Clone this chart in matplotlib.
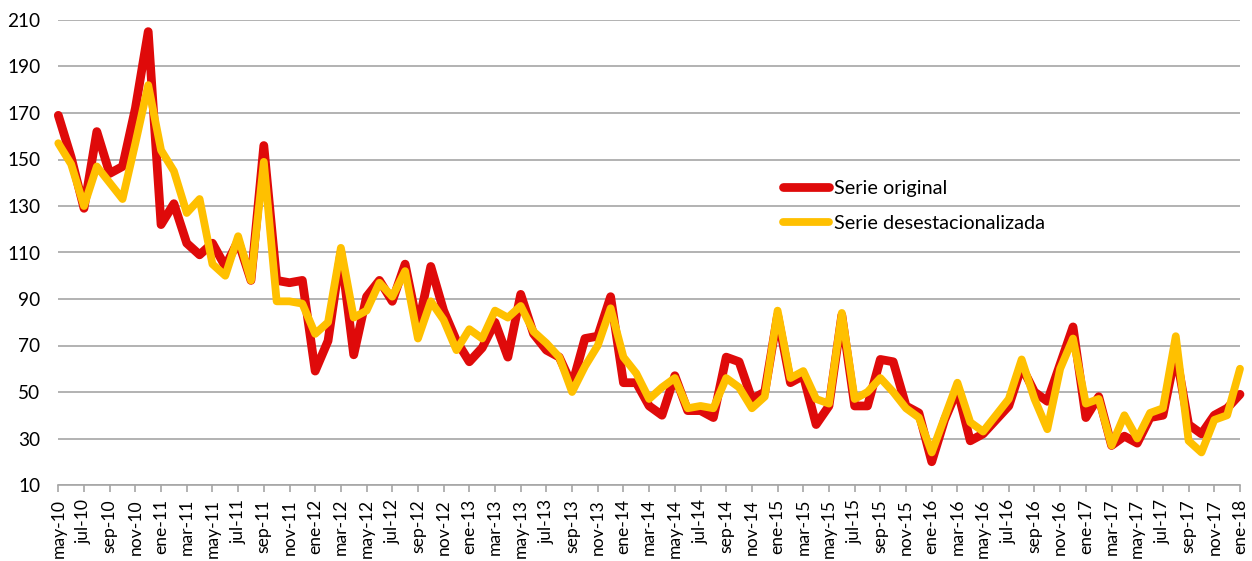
import matplotlib
matplotlib.use("Agg")
import matplotlib.pyplot as plt
import numpy as np

# ---- data ----
serie_original = [169, 151, 129, 162, 144, 147, 172, 205, 122, 131, 114, 109, 114, 104, 115, 98,
                  156, 98, 97, 98, 59, 72, 110, 66, 91, 98, 89, 105, 78, 104, 85, 72,
                  63, 69, 80, 65, 92, 75, 68, 65, 53, 73, 74, 91, 54, 54, 44, 40,
                  57, 42, 42, 39, 65, 63, 47, 50, 83, 54, 57, 36, 44, 83, 44, 44,
                  64, 63, 44, 41, 20, 38, 51, 29, 32, 38, 44, 61, 50, 46, 62, 78,
                  39, 48, 27, 31, 28, 39, 40, 67, 36, 32, 40, 43, 49]
serie_desest = [157, 148, 130, 147, 140, 133, 157, 182, 154, 145, 127, 133, 105, 100, 117, 98,
                149, 89, 89, 88, 75, 80, 112, 82, 85, 97, 91, 102, 73, 89, 81, 68,
                77, 73, 85, 82, 87, 76, 71, 65, 50, 61, 70, 86, 65, 58, 47, 52,
                56, 43, 44, 43, 56, 52, 43, 48, 85, 56, 59, 47, 45, 84, 47, 50,
                56, 50, 43, 39, 24, 39, 54, 37, 33, 40, 47, 64, 47, 34, 60, 73,
                45, 47, 27, 40, 30, 41, 43, 74, 29, 24, 38, 40, 60]
tick_labels = ["may-10", "jul-10", "sep-10", "nov-10", "ene-11", "mar-11", "may-11", "jul-11",
               "sep-11", "nov-11", "ene-12", "mar-12", "may-12", "jul-12", "sep-12", "nov-12",
               "ene-13", "mar-13", "may-13", "jul-13", "sep-13", "nov-13", "ene-14", "mar-14",
               "may-14", "jul-14", "sep-14", "nov-14", "ene-15", "mar-15", "may-15", "jul-15",
               "sep-15", "nov-15", "ene-16", "mar-16", "may-16", "jul-16", "sep-16", "nov-16",
               "ene-17", "mar-17", "may-17", "jul-17", "sep-17", "nov-17", "ene-18"]
y_ticks = [10, 30, 50, 70, 90, 110, 130, 150, 170, 190, 210]
series_names = ["Serie original", "Serie desestacionalizada"]

plt.rcParams['font.family'] = ['Lato', 'DejaVu Sans']

W, H = 1252, 561
fig = plt.figure(figsize=(W / 100, H / 100), dpi=100)
ax = fig.add_axes([58.3 / W, 76 / H, (1240 - 58.3) / W, 465 / H])

x = np.arange(len(serie_original))
grid_c = "#A6A6A6"
ax.plot(x, serie_original, color="#DF0A0A", lw=6.3, solid_capstyle="round",
        solid_joinstyle="round", label=series_names[0], zorder=3, clip_on=False)
ax.plot(x, serie_desest, color="#FFC000", lw=5.6, solid_capstyle="round",
        solid_joinstyle="round", label=series_names[1], zorder=4, clip_on=False)

ax.set_xlim(0, len(x) - 1)
ax.set_ylim(10, 210)
ax.set_yticks(y_ticks)
ax.set_xticks(np.arange(0, len(x), 2))
ax.set_xticklabels(tick_labels, rotation=90)

ax.yaxis.grid(True, color=grid_c, lw=1.2)
ax.set_axisbelow(True)
for s in ["top", "right", "left"]:
    ax.spines[s].set_visible(False)
ax.spines["bottom"].set_color(grid_c)
ax.spines["bottom"].set_linewidth(1.2)
ax.spines["bottom"].set_zorder(1)

ax.tick_params(axis="y", length=0, pad=13, labelsize=13.7, colors="black")
ax.tick_params(axis="x", length=5, width=1.2, color=grid_c, pad=5, labelsize=12.6,
               labelcolor="black")

leg = fig.legend(loc="center left", bbox_to_anchor=(783 / W, 1 - 206 / H),
                 frameon=False, fontsize=14.3, handlelength=2.3, handletextpad=0.25,
                 borderpad=0, borderaxespad=0, labelspacing=0.95)

fig.savefig("out.png", dpi=100)
